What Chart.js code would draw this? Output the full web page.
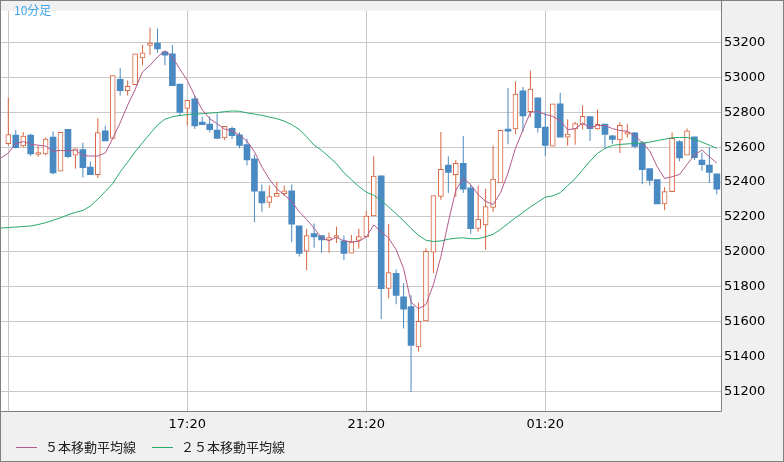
<!DOCTYPE html>
<html>
<head>
<meta charset="utf-8">
<script src="https://cdn.jsdelivr.net/npm/chart.js@4.4.1/dist/chart.umd.min.js"></script>
<style>
  html, body { margin: 0; padding: 0; background: #f0f0f0; }
  canvas { display: block; }
</style>
</head>
<body>
<canvas id="chart" width="784" height="462"></canvas>
<script>
// === 10分足 13:20 - 05:10 ===
const open = [
  52620, 52670, 52608, 52670, 52558, 52561, 52658, 52462, 52703, 52555,
  52587, 52486, 52443, 52694, 52650, 52990, 52925, 52959, 53112, 53185,
  53198, 53147, 53136, 52962, 52822, 52878, 52744, 52733, 52699, 52653,
  52709, 52671, 52615, 52533, 52346, 52283, 52317, 52334, 52350, 52149,
  52003, 52104, 52093, 52066, 52082, 52062, 51992, 52065, 52087, 52205,
  52436, 51790, 51876, 51742, 51686, 51454, 51603, 51998, 52317, 52498,
  52443, 52507, 52367, 52134, 52154, 52255, 52395, 52699, 52705, 52923,
  52804, 52884, 52716, 52606, 52849, 52658, 52705, 52731, 52776, 52705,
  52733, 52666, 52642, 52675, 52682, 52623, 52477, 52414, 52275, 52345,
  52632, 52555, 52660, 52526, 52498, 52447
];
const high = [
  52884, 52699, 52688, 52677, 52608, 52656, 52690, 52686, 52703, 52591,
  52626, 52518, 52766, 52723, 53011, 53055, 52983, 53136, 53186, 53287,
  53282, 53150, 53186, 52962, 52869, 52899, 52776, 52776, 52794, 52720,
  52718, 52686, 52649, 52558, 52386, 52380, 52402, 52380, 52386, 52149,
  52132, 52162, 52093, 52110, 52145, 52094, 52098, 52132, 52236, 52548,
  52436, 52160, 51898, 51820, 51751, 51708, 52020, 52322, 52688, 52548,
  52527, 52664, 52384, 52380, 52362, 52610, 52700, 52940, 52978, 52945,
  53041, 52884, 52800, 52849, 52912, 52761, 52746, 52841, 52776, 52817,
  52733, 52670, 52744, 52734, 52688, 52636, 52477, 52414, 52370, 52684,
  52640, 52707, 52660, 52570, 52600, 52447
];
const low = [
  52610, 52593, 52600, 52550, 52546, 52554, 52443, 52462, 52538, 52477,
  52426, 52443, 52423, 52636, 52645, 52897, 52897, 52959, 53071, 53130,
  53142, 53071, 52953, 52781, 52725, 52705, 52729, 52686, 52651, 52642,
  52647, 52594, 52496, 52169, 52230, 52253, 52317, 52320, 52054, 51973,
  51894, 52023, 51995, 51995, 52050, 51951, 51992, 52018, 52087, 52205,
  51614, 51732, 51698, 51559, 51195, 51428, 51603, 51876, 52298, 52337,
  52315, 52337, 52104, 52115, 52012, 52230, 52395, 52617, 52675, 52688,
  52772, 52684, 52550, 52606, 52658, 52608, 52614, 52701, 52636, 52700,
  52594, 52620, 52567, 52656, 52593, 52387, 52380, 52274, 52238, 52345,
  52520, 52555, 52527, 52465, 52395, 52330
];
const close = [
  52673, 52598, 52664, 52561, 52562, 52647, 52453, 52686, 52546, 52591,
  52482, 52443, 52684, 52636, 53011, 52925, 52950, 53136, 53142, 53198,
  53164, 53129, 52953, 52800, 52869, 52722, 52729, 52701, 52651, 52720,
  52667, 52611, 52527, 52348, 52281, 52317, 52335, 52350, 52158, 51990,
  52093, 52085, 52068, 52082, 52088, 51990, 52055, 52087, 52205, 52434,
  51788, 51880, 51749, 51671, 51463, 51600, 52003, 52322, 52473, 52455,
  52507, 52359, 52132, 52188, 52259, 52417, 52697, 52692, 52905, 52780,
  52933, 52712, 52611, 52849, 52658, 52675, 52735, 52778, 52707, 52731,
  52673, 52645, 52725, 52684, 52604, 52471, 52410, 52274, 52345, 52651,
  52539, 52694, 52540, 52500, 52455, 52359
];
// 表示範囲より前の終値 (5本線の左端用、線から逆算した推定)
const prevCloses = [52533, 52318, 52614, 52636, 52589];
// 25本移動平均線 (先頭は表示範囲の1本前)
const ma25 = [
  52136, 52139, 52142, 52145, 52148, 52156, 52167, 52181, 52195, 52212,
  52226, 52237, 52262, 52302, 52346, 52391, 52458, 52514, 52573, 52626,
  52677, 52727, 52761, 52775, 52782, 52787, 52790, 52792, 52796, 52799,
  52804, 52808, 52806, 52797, 52790, 52783, 52773, 52764, 52750, 52730,
  52702, 52660, 52612, 52582, 52545, 52506, 52453, 52414, 52374, 52342,
  52324, 52293, 52257, 52218, 52178, 52134, 52094, 52066, 52059, 52062,
  52072, 52078, 52080, 52075, 52075, 52086, 52100, 52128, 52162, 52195,
  52226, 52257, 52285, 52313, 52321, 52339, 52380, 52419, 52470, 52520,
  52565, 52593, 52610, 52616, 52619, 52622, 52625, 52629, 52638, 52646,
  52654, 52656, 52656, 52646, 52629, 52612, 52593
];
const xTickIdx = [0, 24, 48, 72];
const xTickLabels = ['13:20', '17:20', '21:20', '01:20'];
const yTicks = [51200, 51400, 51600, 51800, 52000, 52200, 52400, 52600, 52800, 53000, 53200];

const UP = '#d8643f';
const DOWN = '#4a8ac3';
const MA5_COLOR = '#b25a8c';
const MA25_COLOR = '#27a96c';

// 5本移動平均
const allClose = prevCloses.concat(close);
const ma5Points = [];
for (let i = 4; i < allClose.length; i++) {
  let s = 0;
  for (let k = i - 4; k <= i; k++) s += allClose[k];
  ma5Points.push({ x: i - prevCloses.length, y: s / 5 });
}
const ma25Points = ma25.map((v, i) => ({ x: i - 1, y: v }));

const upBodies = [], downBodies = [], wicks = [], wickColors = [];
close.forEach((c, i) => {
  const o = open[i];
  if (c >= o) upBodies.push({ x: i, y: [o, c] });
  else downBodies.push({ x: i, y: [o, c] });
  wicks.push({ x: i, y: [low[i], high[i]] });
  wickColors.push(c >= o ? UP : DOWN);
});

const tickFont = { family: 'DejaVu Sans', size: 13 };

// === 枠・ラベル・凡例 ===
const framePlugin = {
  id: 'frame',
  beforeDraw(chart) {
    const { ctx, chartArea: a } = chart;
    ctx.save();
    ctx.fillStyle = '#f0f0f0';
    ctx.fillRect(0, 0, chart.width, chart.height);
    ctx.fillStyle = '#ffffff';
    ctx.fillRect(a.left, a.top, a.right - a.left, a.bottom - a.top);
    ctx.restore();
  },
  afterDraw(chart) {
    const { ctx, chartArea: a } = chart;
    ctx.save();
    ctx.strokeStyle = '#808080';
    ctx.lineWidth = 1;
    ctx.strokeRect(0.5, 0.5, chart.width - 1, chart.height - 1);
    ctx.beginPath();
    ctx.moveTo(Math.round(a.right) + 0.5, 0);
    ctx.lineTo(Math.round(a.right) + 0.5, Math.round(a.bottom) + 0.5);
    ctx.lineTo(0, Math.round(a.bottom) + 0.5);
    ctx.stroke();

    ctx.font = '12px "Noto Sans CJK JP"';
    ctx.fillStyle = '#3ea6ee';
    ctx.textBaseline = 'middle';
    ctx.fillText('10分足', 14, 10);

    const items = [
      { text: '５本移動平均線', color: MA5_COLOR, x: 16 },
      { text: '２５本移動平均線', color: MA25_COLOR, x: 152 }
    ];
    ctx.font = '13px "Noto Sans CJK JP"';
    items.forEach(it => {
      ctx.strokeStyle = it.color;
      ctx.beginPath();
      ctx.moveTo(it.x, 447.5);
      ctx.lineTo(it.x + 21, 447.5);
      ctx.stroke();
      ctx.fillStyle = '#222';
      ctx.fillText(it.text, it.x + 29, 447);
    });
    ctx.restore();
  }
};

new Chart(document.getElementById('chart'), {
  type: 'bar',
  data: {
    datasets: [
      {
        type: 'line', data: ma5Points, borderColor: MA5_COLOR, borderWidth: 1,
        pointRadius: 0, tension: 0, order: 0
      },
      {
        type: 'line', data: ma25Points, borderColor: MA25_COLOR, borderWidth: 1,
        pointRadius: 0, tension: 0, order: 1
      },
      {
        data: upBodies, backgroundColor: '#ffffff', borderColor: UP, borderWidth: 1,
        borderSkipped: false, barThickness: 5, minBarLength: 2, grouped: false, order: 2
      },
      {
        data: downBodies, backgroundColor: DOWN, borderWidth: 0,
        barThickness: 6, minBarLength: 2, grouped: false, order: 2
      },
      {
        data: wicks, backgroundColor: wickColors, borderWidth: 0,
        barThickness: 1, inflateAmount: 0, grouped: false, order: 3
      }
    ]
  },
  options: {
    responsive: false,
    animation: false,
    devicePixelRatio: 1,
    events: [],
    layout: { padding: { left: 1, top: 1, right: 0, bottom: 31 } },
    plugins: { legend: { display: false }, tooltip: { enabled: false } },
    scales: {
      x: {
        type: 'linear', min: -0.98, max: 95.56, offset: false,
        grid: { color: '#c8c8c8', drawTicks: false, offset: false },
        border: { display: false },
        afterBuildTicks: s => { s.ticks = xTickIdx.map(v => ({ value: v })); },
        afterFit: s => { s.height = 20; },
        ticks: {
          autoSkip: false, maxRotation: 0, padding: 6, color: '#000', font: tickFont,
          callback: v => {
            const k = xTickIdx.indexOf(v);
            return k > 0 ? xTickLabels[k] : '';
          }
        }
      },
      y: {
        position: 'right', min: 51086, max: 53383, beginAtZero: false,
        grid: { color: '#c8c8c8', drawTicks: false },
        border: { display: false },
        afterBuildTicks: s => { s.ticks = yTicks.map(v => ({ value: v })); },
        afterFit: s => { s.width = 63; },
        ticks: { padding: 3, color: '#000', font: tickFont, callback: v => String(v) }
      }
    }
  },
  plugins: [framePlugin]
});
</script>
</body>
</html>
